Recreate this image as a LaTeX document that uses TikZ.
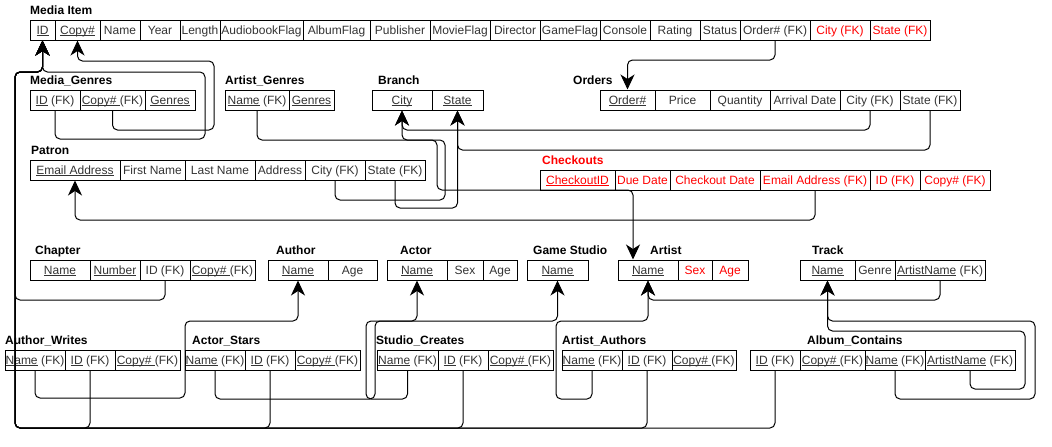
\documentclass[tikz,border=0pt]{standalone}
\usepackage{fontspec}
\setmainfont{Liberation Sans}
\usetikzlibrary{arrows.meta}
\definecolor{txt}{HTML}{333333}
\definecolor{fkred}{HTML}{FF0000}
\newsavebox{\ulbox}
\newcommand{\uln}[1]{\sbox{\ulbox}{#1}\rlap{\rule[-1.7pt]{\wd\ulbox}{0.8pt}}\usebox{\ulbox}}
\tikzset{
  cell/.style={draw, line width=1pt, minimum height=20, inner sep=0pt, text height=10, text depth=1, text=txt},
  newcell/.style={cell, text=fkred},
  title/.style={anchor=west, inner sep=0pt, text height=10, text depth=1, font=\fontsize{12}{14}\selectfont\bfseries},
  fk/.style={line width=1pt, rounded corners=5pt, -{Stealth[length=15pt,width=14pt,inset=4.5pt]}},
}
\begin{document}
\begin{tikzpicture}[x=1pt, y=-1pt, font=\fontsize{12}{14}\selectfont]
  \useasboundingbox (0,0) rectangle (1052,447);

  % Media Item
  \node[title] at (30,10) {Media Item};
  \node[cell, minimum width=25] (mi-id) at (42.5,30) {\uln{ID}};
  \node[cell, minimum width=45] (mi-copy) at (77.5,30) {\uln{Copy\#}};
  \node[cell, minimum width=40] (mi-name) at (120,30) {Name};
  \node[cell, minimum width=40] (mi-year) at (160,30) {Year};
  \node[cell, minimum width=40] (mi-len) at (200,30) {Length};
  \node[cell, minimum width=83] (mi-audio) at (261.5,30) {AudiobookFlag};
  \node[cell, minimum width=67] (mi-album) at (336.5,30) {AlbumFlag};
  \node[cell, minimum width=60] (mi-pub) at (400,30) {Publisher};
  \node[cell, minimum width=60] (mi-movie) at (460,30) {MovieFlag};
  \node[cell, minimum width=50] (mi-dir) at (515,30) {Director};
  \node[cell, minimum width=60] (mi-game) at (570,30) {GameFlag};
  \node[cell, minimum width=50] (mi-console) at (625,30) {Console};
  \node[cell, minimum width=50] (mi-rating) at (675,30) {Rating};
  \node[cell, minimum width=40] (mi-status) at (720,30) {Status};
  \node[cell, minimum width=70] (mi-order) at (775,30) {Order\# (FK)};
  \node[newcell, minimum width=60] (mi-city) at (840,30) {City (FK)};
  \node[newcell, minimum width=60] (mi-state) at (900,30) {State (FK)};

  % Media_Genres, Artist_Genres, Branch, Orders
  \node[title] at (30,80) {Media\_Genres};
  \node[cell, minimum width=50] (mg-id) at (55,100) {\uln{ID} (FK)};
  \node[cell, minimum width=65] (mg-copy) at (112.5,100) {\uln{Copy\#\ }(FK)};
  \node[cell, minimum width=50] (mg-genres) at (170,100) {\uln{Genres}};

  \node[title] at (225,80) {Artist\_Genres};
  \node[cell, minimum width=64] (ag-name) at (257,100) {\uln{Name} (FK)};
  \node[cell, minimum width=45] (ag-genres) at (311.5,100) {\uln{Genres}};

  \node[title] at (378,80) {Branch};
  \node[cell, minimum width=60] (br-city) at (402,100) {\uln{City}};
  \node[cell, minimum width=51] (br-state) at (457.5,100) {\uln{State}};

  \node[title] at (573,80) {Orders};
  \node[cell, minimum width=55] (od-order) at (627.5,100) {\uln{Order\#}};
  \node[cell, minimum width=55] (od-price) at (682.5,100) {Price};
  \node[cell, minimum width=60] (od-qty) at (740,100) {Quantity};
  \node[cell, minimum width=70] (od-arrival) at (805,100) {Arrival Date};
  \node[cell, minimum width=60] (od-city) at (870,100) {City (FK)};
  \node[cell, minimum width=60] (od-state) at (930,100) {State (FK)};

  % Patron, Checkouts
  \node[title] at (31,150) {Patron};
  \node[cell, minimum width=90] (pa-email) at (75,170) {\uln{Email Address}};
  \node[cell, minimum width=65] (pa-first) at (152.5,170) {First Name};
  \node[cell, minimum width=70] (pa-last) at (220,170) {Last Name};
  \node[cell, minimum width=50] (pa-addr) at (280,170) {Address};
  \node[cell, minimum width=60] (pa-city) at (335,170) {City (FK)};
  \node[cell, minimum width=60] (pa-state) at (395,170) {State (FK)};

  \node[title, text=fkred] at (542,160) {Checkouts};
  \node[newcell, minimum width=75] (co-id) at (577.5,180) {\uln{CheckoutID}};
  \node[newcell, minimum width=55] (co-due) at (642.5,180) {Due Date};
  \node[newcell, minimum width=90] (co-date) at (715,180) {Checkout Date};
  \node[newcell, minimum width=110] (co-email) at (815,180) {Email Address (FK)};
  \node[newcell, minimum width=50] (co-mid) at (895,180) {ID (FK)};
  \node[newcell, minimum width=70] (co-copy) at (955,180) {Copy\# (FK)};

  % Chapter, Author, Actor, Game Studio, Artist, Track
  \node[title] at (35,250) {Chapter};
  \node[cell, minimum width=60] (ch-name) at (60,270) {\uln{Name}};
  \node[cell, minimum width=50] (ch-num) at (115,270) {\uln{Number}};
  \node[cell, minimum width=50] (ch-id) at (165,270) {ID (FK)};
  \node[cell, minimum width=65] (ch-copy) at (222.5,270) {\uln{Copy\#\ }(FK)};

  \node[title] at (276,250) {Author};
  \node[cell, minimum width=60] (au-name) at (298,270) {\uln{Name}};
  \node[cell, minimum width=49] (au-age) at (352.5,270) {Age};

  \node[title] at (400,250) {Actor};
  \node[cell, minimum width=60] (at-name) at (417,270) {\uln{Name}};
  \node[cell, minimum width=36] (at-sex) at (465,270) {Sex};
  \node[cell, minimum width=34] (at-age) at (500,270) {Age};

  \node[title] at (533,250) {Game Studio};
  \node[cell, minimum width=61] (gs-name) at (557.5,270) {\uln{Name}};

  \node[title] at (650,250) {Artist};
  \node[cell, minimum width=60] (ar-name) at (648,270) {\uln{Name}};
  \node[newcell, minimum width=34] (ar-sex) at (695,270) {Sex};
  \node[newcell, minimum width=36] (ar-age) at (730,270) {Age};

  \node[title] at (812,250) {Track};
  \node[cell, minimum width=55] (tr-name) at (827.5,270) {\uln{Name}};
  \node[cell, minimum width=40] (tr-genre) at (875,270) {Genre};
  \node[cell, minimum width=90] (tr-artist) at (940,270) {\uln{ArtistName} (FK)};

  % link tables
  \node[title] at (5,340) {Author\_Writes};
  \node[cell, minimum width=60] (aw-name) at (35,360) {\uln{Name} (FK)};
  \node[cell, minimum width=50] (aw-id) at (90,360) {\uln{ID} (FK)};
  \node[cell, minimum width=65] (aw-copy) at (147.5,360) {\uln{Copy\#\ }(FK)};

  \node[title] at (192,340) {Actor\_Stars};
  \node[cell, minimum width=60] (as-name) at (215,360) {\uln{Name} (FK)};
  \node[cell, minimum width=50] (as-id) at (270,360) {\uln{ID} (FK)};
  \node[cell, minimum width=65] (as-copy) at (327.5,360) {\uln{Copy\#\ }(FK)};

  \node[title] at (376,340) {Studio\_Creates};
  \node[cell, minimum width=61] (sc-name) at (407.5,360) {\uln{Name} (FK)};
  \node[cell, minimum width=50] (sc-id) at (463,360) {\uln{ID} (FK)};
  \node[cell, minimum width=65] (sc-copy) at (520.5,360) {\uln{Copy\#\ }(FK)};

  \node[title] at (562,340) {Artist\_Authors};
  \node[cell, minimum width=60] (aa-name) at (592,360) {\uln{Name} (FK)};
  \node[cell, minimum width=50] (aa-id) at (647,360) {\uln{ID} (FK)};
  \node[cell, minimum width=64] (aa-copy) at (704,360) {\uln{Copy\#\ }(FK)};

  \node[title] at (807,340) {Album\_Contains};
  \node[cell, minimum width=50] (al-id) at (775,360) {\uln{ID} (FK)};
  \node[cell, minimum width=65] (al-copy) at (832.5,360) {\uln{Copy\#\ }(FK)};
  \node[cell, minimum width=60] (al-name) at (895,360) {\uln{Name} (FK)};
  \node[cell, minimum width=90] (al-artist) at (970,360) {\uln{ArtistName} (FK)};

  % references to Media Item
  \draw[fk] (mg-id.south) |- (205,139) |- (mi-id.south |- 0,72) -- (mi-id.south);
  \draw[fk] (mg-copy.south) |- (214,130) |- (mi-copy.south |- 0,61) -- (mi-copy.south);
  \draw[fk] (ch-id.south) |- (15,300) |- (mi-id.south |- 0,72) -- (mi-id.south);
  \foreach \s in {aw-id, as-id, sc-id, aa-id, al-id}
    \draw[fk] (\s.south) |- (15,428) |- (mi-id.south |- 0,72) -- (mi-id.south);
  \draw[fk] (mi-order.south) |- (od-order.north |- 0,60) -- (od-order.north);

  % references to Branch and Patron
  \draw[fk] (od-city.south) |- (br-city.south |- 0,130) -- (br-city.south);
  \draw[fk] (od-state.south) |- (br-state.south |- 0,150) -- (br-state.south);
  \draw[fk] (pa-city.south) |- (445,200) |- (br-city.south |- 0,140) -- (br-city.south);
  \draw[fk] (pa-state.south) |- (br-state.south |- 0,208) -- (br-state.south);
  \draw[fk] (co-email.south) |- (pa-email.south |- 0,220) -- (pa-email.south);

  % references to Artist, Author, Actor, Game Studio, Track
  \coordinate (ar-top) at ([xshift=-15]ar-name.north);
  \draw[fk] (ag-name.south) |- (437,140) |- (ar-top |- 0,190) -- (ar-top);
  \draw[fk] (aw-name.south) |- (185,398) |- (au-name.south |- 0,321) -- (au-name.south);
  \draw[fk] (as-name.south) |- (375,399) |- (at-name.south |- 0,321) -- (at-name.south);
  \draw[fk] (sc-name.south) |- (366,399) |- (gs-name.south |- 0,321) -- (gs-name.south);
  \draw[fk] (aa-name.south) |- (556,399) |- (ar-name.south |- 0,321) -- (ar-name.south);
  \draw[fk] (tr-artist.south) |- (ar-name.south |- 0,300) -- (ar-name.south);
  \draw[fk] (al-name.south) |- (1035,399) |- (tr-name.south |- 0,321) -- (tr-name.south);
  \draw[fk] (al-artist.south) |- (1025,389) |- (tr-name.south |- 0,331) -- (tr-name.south);
\end{tikzpicture}
\end{document}
